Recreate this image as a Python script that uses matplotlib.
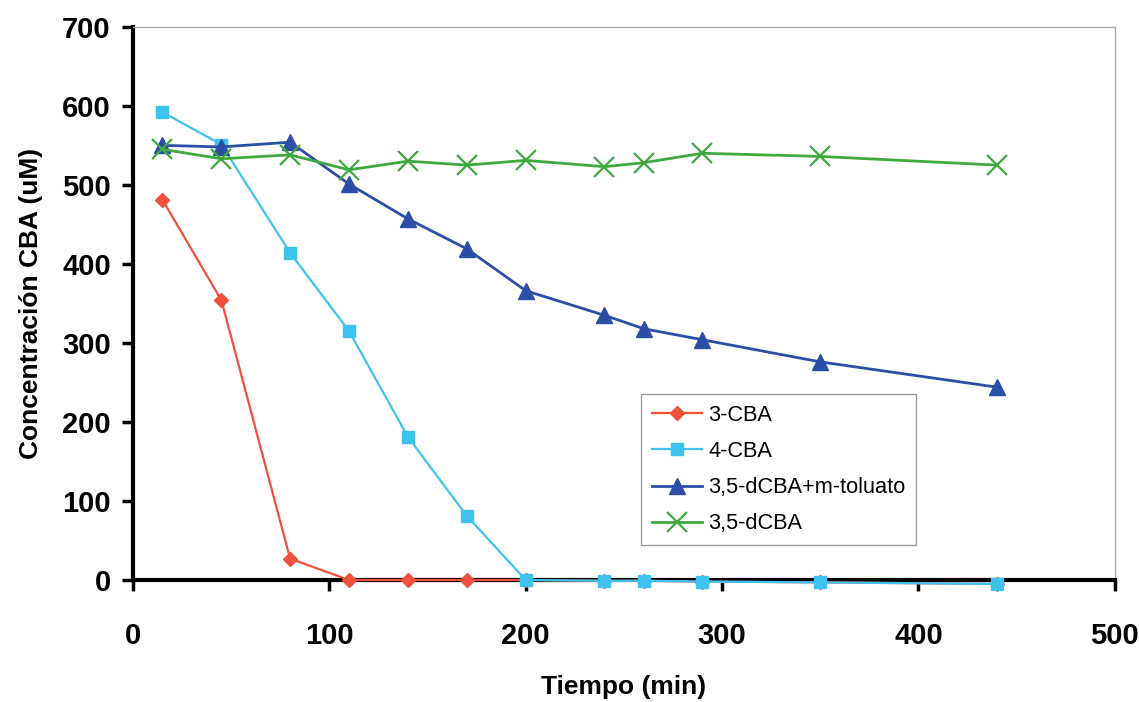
import matplotlib.pyplot as plt

# Datos
tiempo = [15, 45, 80, 110, 140, 170, 200, 240, 260, 290, 350, 440]
cba3 = [481, 354, 27, 0, 0, 0, 0, -1, -1, -2, -3, -5]
cba4 = [592, 551, 414, 315, 181, 81, 0, -1, -1, -2, -3, -5]
dcba_tol = [550, 548, 554, 501, 457, 419, 366, 335, 318, 304, 276, 244]
dcba = [545, 533, 538, 519, 530, 525, 531, 523, 528, 540, 536, 525]

nombres = ['3-CBA', '4-CBA', '3,5-dCBA+m-toluato', '3,5-dCBA']

plt.rcParams['font.family'] = ['Liberation Sans', 'DejaVu Sans']

fig = plt.figure(figsize=(11.39, 7.02), dpi=100)
ax = fig.add_axes([0.1168, 0.1738, 0.862, 0.788])

ax.plot(tiempo, cba3, color='#f0503c', lw=1.6, marker='D', ms=7,
        label=nombres[0], clip_on=False, zorder=3)
ax.plot(tiempo, cba4, color='#3ec3ef', lw=1.6, marker='s', ms=8,
        label=nombres[1], clip_on=False, zorder=4)
ax.plot(tiempo, dcba_tol, color='#2d4ea6', lw=2, marker='^', ms=11,
        label=nombres[2], clip_on=False, zorder=5)
ax.plot(tiempo, dcba, color='#3fa83f', lw=2, marker='x', ms=15, mew=1.6,
        label=nombres[3], clip_on=False, zorder=5)

ax.set_xlim(0, 500)
ax.set_ylim(0, 700)
ax.set_xticks(range(0, 501, 100))
ax.set_yticks(range(0, 701, 100))

for lbl in ax.get_xticklabels() + ax.get_yticklabels():
    lbl.set_fontweight('bold')
    lbl.set_fontsize(21)

ax.tick_params(direction='out', length=8, width=2.5, colors='black')
ax.tick_params(axis='x', pad=22)
ax.tick_params(axis='y', pad=8)

for s in ['left', 'bottom']:
    ax.spines[s].set_linewidth(3)
    ax.spines[s].set_color('black')
for s in ['top', 'right']:
    ax.spines[s].set_linewidth(1)
    ax.spines[s].set_color('#aaaaaa')

ax.set_xlabel('Tiempo (min)', fontsize=19, fontweight='bold', labelpad=18)
ax.set_ylabel('Concentración CBA (uM)', fontsize=19, fontweight='bold', labelpad=14)

leg = ax.legend(loc='lower left', bbox_to_anchor=(0.506, 0.043), fontsize=15.7,
                frameon=True, fancybox=False, edgecolor='#888888',
                handlelength=2.3, handletextpad=0.3, labelspacing=0.7,
                borderpad=0.5)
leg.get_frame().set_linewidth(1)

fig.savefig('out.png', dpi=100)
